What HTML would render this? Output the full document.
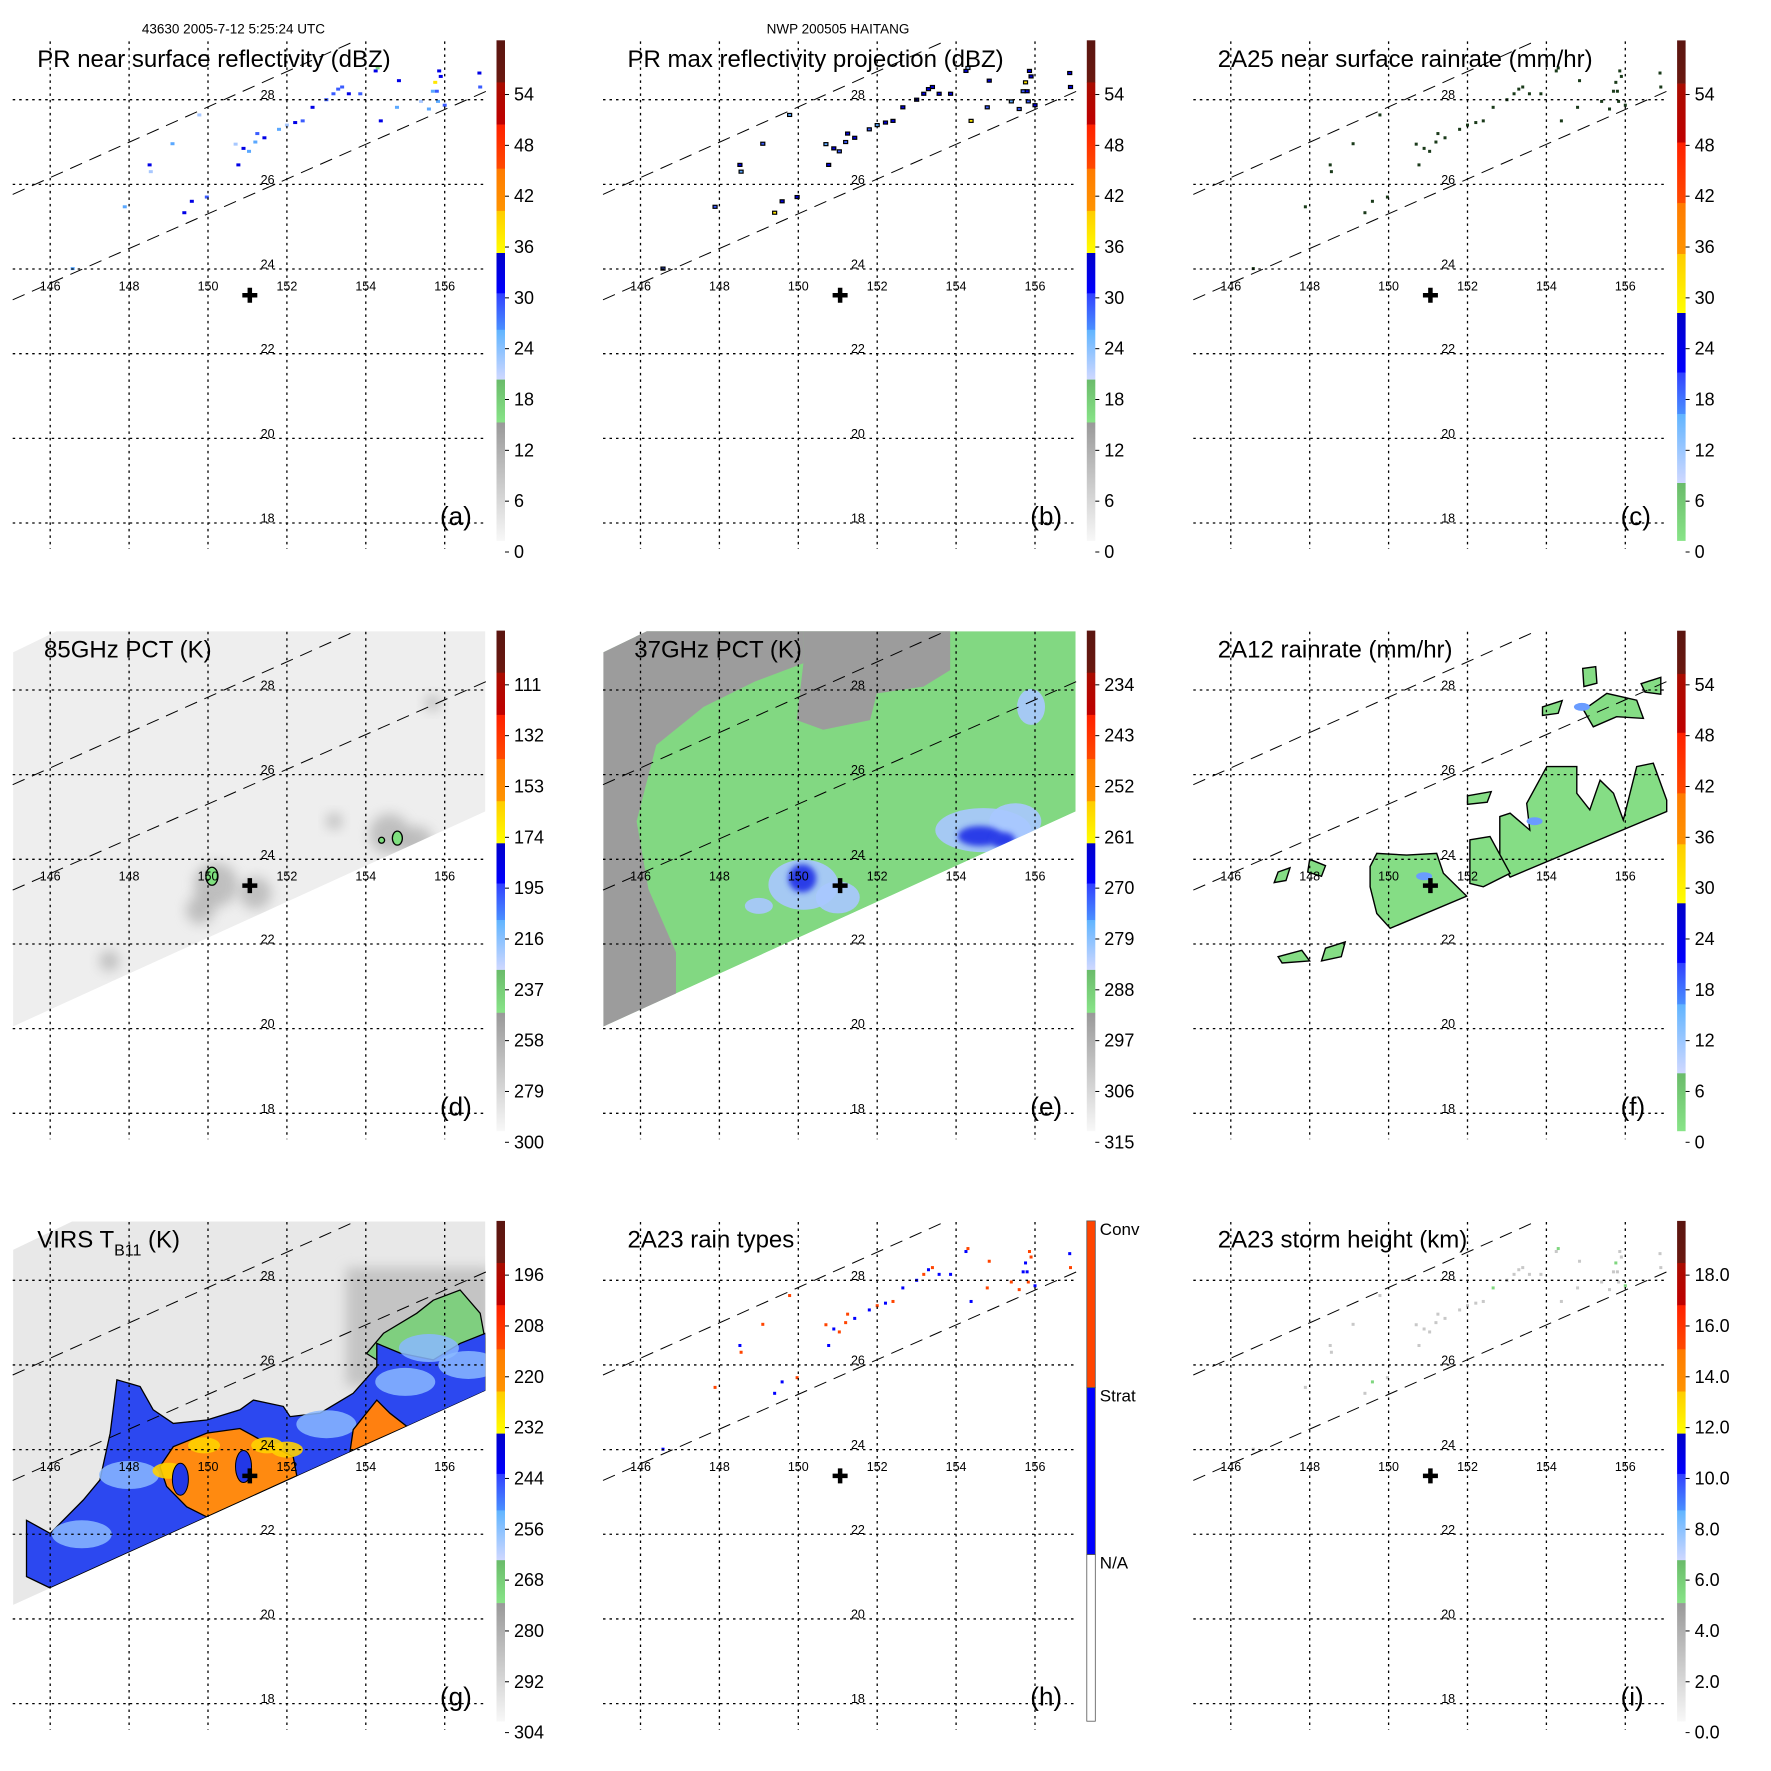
<!DOCTYPE html>
<html><head><meta charset="utf-8">
<style>
html,body{margin:0;padding:0;background:#fff;}
svg{display:block;}
text{font-family:"Liberation Sans",Arial,sans-serif;fill:#000;}
</style></head>
<body>
<svg id="fig" width="1771" height="1771" viewBox="0 0 1771 1771" xmlns="http://www.w3.org/2000/svg">
<defs>
  <filter id="blur3" x="-50%" y="-50%" width="200%" height="200%"><feGaussianBlur stdDeviation="3"/></filter>
  <filter id="blur6" x="-50%" y="-50%" width="200%" height="200%"><feGaussianBlur stdDeviation="6"/></filter>
</defs>
</svg>
<script>
// ---------- data arrays ----------
const lonTicks = [146,148,150,152,154,156];
const latTicks = [18,20,22,24,26,28];
const panelTitles = ["PR near surface reflectivity (dBZ)","PR max reflectivity projection (dBZ)","2A25 near surface rainrate (mm/hr)","85GHz PCT (K)","37GHz PCT (K)","2A12 rainrate (mm/hr)","VIRS","2A23 rain types","2A23 storm height (km)"];
const panelLetters = ["(a)","(b)","(c)","(d)","(e)","(f)","(g)","(h)","(i)"];
const cbLabelsA = ["0","6","12","18","24","30","36","42","48","54"];
const cbLabelsD = ["300","279","258","237","216","195","174","153","132","111"];
const cbLabelsE = ["315","306","297","288","279","270","261","252","243","234"];
const cbLabelsG = ["304","292","280","268","256","244","232","220","208","196"];
const cbLabelsI = ["0.0","2.0","4.0","6.0","8.0","10.0","12.0","14.0","16.0","18.0"];
const cbLabelsC = ["0","6","12","18","24","30","36","42","48","54"];
// PR swath pixels (lon, lat)
const ptLon = [155.76,155.86,155.8,154.25,153.18,153.57,153.86,154.84,154.79,154.38,152.65,152.21,152.4,151.43,151.25,151.04,150.7,150.77,149.59,149.97,149.1,148.52,148.55,149.78,149.4,146.57,147.89,156.88,156.9,155.83,156.0,155.4,155.6,151.8,152.0,151.2,150.9,153.4,153.0,155.7,155.9,154.3,153.3];
const ptLat = [28.41,28.68,28.2,28.68,28.14,28.14,28.14,28.45,27.82,27.5,27.82,27.46,27.5,27.1,27.2,26.78,26.95,26.46,25.6,25.7,26.96,26.46,26.3,27.64,25.33,24.01,25.47,28.63,28.3,27.96,27.87,27.96,27.78,27.3,27.4,27.0,26.85,28.3,28.0,28.2,28.55,28.75,28.25];
const ptDbz = [36,30,28,31,27,30,29,31,25,32,30,31,27,30,27,26,23,30,31,29,25,30,21,23,33,24,25,30,27,26,29,22,24,26,22,25,30,28,27,25,30,19,28];
const ptType = [1,2,1,1,2,1,1,2,2,1,1,1,2,1,2,2,2,1,1,2,2,1,2,2,1,1,2,1,2,2,1,2,2,1,2,2,1,2,1,1,2,2,1];
const ptHeight = [6.5,4.5,3.5,5,3,4,3.5,4,3,4,6,3.5,3,3,2.5,3,2.5,3,6,3,2.5,2,2,2.5,3,2,2,3,2.5,3,6,2.5,3,3,2.5,3,2.5,3,2.5,3,4,6.5,2.5];

// ---------- helpers ----------
const svg = document.getElementById('fig');
const NS = 'http://www.w3.org/2000/svg';
const STEP = 590.3;
function mk(tag, attrs, parent){ const e=document.createElementNS(NS,tag); for(const k in attrs) e.setAttribute(k,attrs[k]); (parent||svg).appendChild(e); return e; }
function px(p,lon){ return (p%3)*STEP + 50.2 + (lon-146)*39.45; }
function py(p,lat){ return Math.floor(p/3)*STEP + 99.7 + (28-lat)*42.33; }
function poly(p,lons,lats){ return lons.map((l,i)=>px(p,l).toFixed(1)+','+py(p,lats[i]).toFixed(1)).join(' '); }

function colorA(v){
  if(v<15) return '#bbbbbb'; if(v<20) return '#7fd67f'; if(v<24) return '#a8c8ff';
  if(v<27) return '#5aa8ff'; if(v<30) return '#3a5cff'; if(v<35) return '#0000e6';
  if(v<40) return '#ffe600'; if(v<45) return '#ff8000'; return '#ff2000';
}

const segA = [[40.3,82.4,'#5a1510','#6a1810'],[82.4,124.6,'#a80c00','#c00000'],[124.6,168.7,'#ff2000','#ff4a00'],[168.7,210.9,'#ff7a00','#ff9400'],[210.9,253,'#ffcc00','#ffff00'],[253,293.3,'#0000c8','#0000ff'],[293.3,329.8,'#3040ff','#4a90ff'],[329.8,379.6,'#60b4ff','#d0d8ff'],[379.6,422.5,'#6abb6a','#88e488'],[422.5,540.6,'#999999','#f8f8f8']];
const segC = [[40.4,83.6,'#5a1510','#6a1810'],[83.6,142.5,'#a80c00','#c00000'],[142.5,203,'#ff2000','#ff4a00'],[203,254,'#ff7a00','#ff9400'],[254,313,'#ffcc00','#ffff00'],[313,372.6,'#0000c8','#0000ff'],[372.6,414,'#3040ff','#4a90ff'],[414,483,'#60b4ff','#d0d8ff'],[483,540.6,'#6abb6a','#88e488']];

let gradId=0;
function colorbar(p, segs, labels, name){
  const ox=(p%3)*STEP, oy=Math.floor(p/3)*STEP;
  const g=mk('g',{});
  
  
  segs.forEach(s=>{
    const id='cg'+(gradId++);
    const lg=mk('linearGradient',{id:id,x1:0,y1:0,x2:0,y2:1},svg.querySelector('defs'));
    mk('stop',{offset:0,'stop-color':s[2]},lg); mk('stop',{offset:1,'stop-color':s[3]},lg);
    const r=mk('rect',{x:ox+496.5,y:oy+s[0],width:8.5,height:s[1]-s[0]+0.3,fill:'url(#'+id+')'},g);
    
    
  });
  labels.forEach((t,k)=>{
    const y=oy+558-k*50.83;
    mk('line',{x1:ox+505,x2:ox+509,y1:y-6,y2:y-6,stroke:'#000','stroke-width':1},g);
    const tx=mk('text',{x:ox+514,y:y,'font-size':18},g); tx.textContent=t;
    
    
  });
}

function grid(p){
  const ox=(p%3)*STEP, oy=Math.floor(p/3)*STEP;
  const g=mk('g',{stroke:'#000','stroke-width':1.3,'stroke-dasharray':'2.5 4',fill:'none'});
  
  
  latTicks.forEach(l=>mk('line',{x1:ox+12.7,x2:ox+487,y1:py(p,l),y2:py(p,l)},g));
  lonTicks.forEach(l=>mk('line',{x1:px(p,l),x2:px(p,l),y1:oy+41.4,y2:oy+549},g));
  const d=mk('g',{stroke:'#000','stroke-width':1,'stroke-dasharray':'13 8',fill:'none'});
  
  
  mk('line',{x1:ox+12.7,y1:oy+194.4,x2:ox+354,y2:oy+41.5},d);
  mk('line',{x1:ox+12.7,y1:oy+299.8,x2:ox+487,y2:oy+90.9},d);
  lonTicks.forEach(l=>{const t=mk('text',{x:px(p,l),y:oy+290.3,'font-size':12.5,'text-anchor':'middle'}); t.textContent=l;
     });
  latTicks.forEach(l=>{const t=mk('text',{x:ox+267.6,y:py(p,l)-0.5,'font-size':12.5,'text-anchor':'middle'}); t.textContent=l;
     });
}

function decor(p){
  const ox=(p%3)*STEP, oy=Math.floor(p/3)*STEP;
  const c=mk('path',{d:`M${px(p,151.06)-7.5},${py(p,23.38)}h15M${px(p,151.06)},${py(p,23.38)-7.5}v15`,stroke:'#000','stroke-width':4.5});
  
  
  const tx = (p===3||p===4)?44:37.2;
  if(p===6){
    const t=mk('text',{x:ox+tx,y:oy+67.1,'font-size':24});
    t.innerHTML='VIRS T<tspan font-size="16" dy="8">B11</tspan><tspan dy="-8"> (K)</tspan>';
     
  } else {
    const t=mk('text',{x:ox+tx,y:oy+67.1,'font-size':24}); t.textContent=panelTitles[p];
     
  }
  const L=mk('text',{x:ox+440,y:oy+525,'font-size':26}); L.textContent=panelLetters[p];
   
}

function clipFor(p, lons, lats){
  const id='clip'+p;
  const cp=mk('clipPath',{id:id},svg.querySelector('defs'));
  mk('polygon',{points:poly(p,lons,lats)},cp);
  return id;
}

const swLon=[145.06,146.16,157.03,157.03,145.06];
const swLat=[28.89,29.39,29.39,25.13,20.05];
const swgLon=[145.06,146.55,157.03,157.03,145.06];
const swgLat=[28.72,29.39,29.39,25.39,20.33];

// panel d : 85GHz
(function(){
  const p=3, id=clipFor(p,swLon,swLat);
  const g=mk('g',{'clip-path':'url(#'+id+')'});
   
  mk('polygon',{points:poly(p,swLon,swLat),fill:'#eeeeee'},g);
  const sLon=[150.2,151.2,154.6,155.3,147.5,155.7,153.2,149.8];
  const sLat=[23.4,23.2,24.6,24.4,21.6,27.7,24.9,22.8];
  const sR=[22,16,20,16,10,8,8,14];
  sLon.forEach((l,i)=>mk('circle',{cx:px(p,l),cy:py(p,sLat[i]),r:sR[i],fill:'#9a9a9a',opacity:0.55,filter:'url(#blur6)'},g));
  const bLon=[150.1,154.8,155.4,154.4];
  const bLat=[23.6,24.5,24.25,24.45];
  const bRx=[6,5,7,3];const bRy=[9,7,3,3];
  bLon.forEach((l,i)=>{const e=mk('ellipse',{cx:px(p,l),cy:py(p,bLat[i]),rx:bRx[i],ry:bRy[i],fill:'#7fe07f',stroke:'#000','stroke-width':1.3},g);
     });
})();

// panel e : 37GHz
(function(){
  const p=4, id=clipFor(p,swLon,swLat);
  const g=mk('g',{'clip-path':'url(#'+id+')'});
   
  mk('polygon',{points:poly(p,swLon,swLat),fill:'#82d882'},g);
  const g1Lon=[145.06,146.16,150.13,150.13,148.9,147.6,146.4,145.9,146.2,146.9,146.9,144.7,144.7];
  const g1Lat=[28.89,29.65,29.65,28.63,28.2,27.6,26.7,24.9,23.3,21.8,19.4,19.4,29.65];
  mk('polygon',{points:poly(p,g1Lon,g1Lat),fill:'#9c9c9c'},g);
  const g2Lon=[150.13,153.85,153.85,153.17,151.99,151.82,150.63,149.96,150.13];
  const g2Lat=[29.65,29.65,28.47,28.08,27.92,27.29,27.06,27.29,28.63];
  mk('polygon',{points:poly(p,g2Lon,g2Lat),fill:'#9c9c9c'},g);
  const bLon=[150.13,151.0,154.69,155.5,155.9,149.0];
  const bLat=[23.4,23.1,24.69,24.9,27.6,22.9];
  const bRx=[35,22,48,26,14,14],bRy=[25,16,22,18,18,8];
  bLon.forEach((l,i)=>mk('ellipse',{cx:px(p,l),cy:py(p,bLat[i]),rx:bRx[i],ry:bRy[i],fill:'#a8c8ff',opacity:0.9},g));
  const dLon=[150.1,154.6,155.2];
  const dLat=[23.55,24.55,24.45];
  const dRx=[14,22,12],dRy=[14,10,8];
  dLon.forEach((l,i)=>mk('ellipse',{cx:px(p,l),cy:py(p,dLat[i]),rx:dRx[i],ry:dRy[i],fill:'#2a3ee8',filter:'url(#blur3)'},g));
})();

// panel f : 2A12
(function(){
  const p=5;
  const g=mk('g',{fill:'#85dd85',stroke:'#000','stroke-width':1.4});
   
  const shapes=[
    [[149.53,149.7,150.46,151.22,151.39,151.98,150.04,149.7,149.53],[23.83,24.14,24.1,24.14,23.67,23.13,22.37,22.72,23.35]],
    [[152.82,153.08,153.58,153.5,154.01,154.77,154.77,155.1,155.36,155.7,155.95,156.29,156.71,157.05,157.05,153.08,152.82],[25.01,25.09,24.69,25.32,26.19,26.19,25.56,25.17,25.87,25.56,24.93,26.19,26.27,25.4,25.13,23.58,23.98]],
    [[152.06,152.57,153.08,152.4,152.06],[24.46,24.54,23.67,23.35,23.43]],
    [[154.94,155.53,156.29,156.46,155.78,155.19],[27.53,27.92,27.76,27.33,27.37,27.13]],
    [[154.92,155.25,155.28,154.95],[28.51,28.55,28.16,28.08]],
    [[147.2,147.8,148.0,147.3],[21.7,21.85,21.6,21.55]],
    [[148.0,148.4,148.3,147.95],[24.0,23.85,23.6,23.7]],
    [[153.9,154.4,154.3,153.9],[27.6,27.75,27.45,27.4]],
    [[156.4,156.9,156.9,156.5],[28.15,28.3,27.9,27.95]],
    [[148.4,148.9,148.8,148.3],[21.9,22.05,21.7,21.6]],
    [[152.0,152.6,152.5,152.0],[25.5,25.6,25.35,25.3]],
    [[147.2,147.5,147.4,147.1],[23.7,23.8,23.5,23.45]]
  ];
  shapes.forEach(s=>{const e=mk('polygon',{points:poly(p,s[0],s[1])},g);
     });
  const blLon=[150.9,153.7,154.9];
  const blLat=[23.6,24.9,27.6];
  blLon.forEach((l,i)=>mk('ellipse',{cx:px(p,l),cy:py(p,blLat[i]),rx:8,ry:4,fill:'#6a9cff',stroke:'none'},svg));
})();

// panel g : VIRS
(function(){
  const p=6, id=clipFor(p,swgLon,swgLat);
  const g=mk('g',{'clip-path':'url(#'+id+')'});
   
  mk('polygon',{points:poly(p,swgLon,swgLat),fill:'#e8e8e8'},g);
  const gyLon=[153.5,157.2,157.2,153.5];
  const gyLat=[28.3,28.3,25.5,25.5];
  mk('polygon',{points:poly(p,gyLon,gyLat),fill:'#c4c4c4',filter:'url(#blur6)'},g);
  const grLon=[155.71,156.39,156.9,157.04,157.04,155.71,154.28,154.02,154.45,155.29];
  const grLat=[27.53,27.77,27.22,26.51,25.33,26.12,26.12,26.27,26.75,27.22];
  mk('polygon',{points:poly(p,grLon,grLat),fill:'#7fcf7f',stroke:'#000','stroke-width':1.3},g);
  const blLon=[145.4,146.0,146.84,147.26,147.52,147.69,148.28,148.61,149.12,149.97,150.81,151.15,151.91,152.08,152.84,153.68,154.28,154.28,154.87,155.71,156.39,157.04,157.04,146.0,145.4];
  const blLat=[22.33,22.02,22.81,23.28,24.39,25.65,25.49,24.94,24.62,24.7,24.94,25.17,25.02,24.78,24.86,25.33,25.96,26.51,26.28,26.12,26.51,26.75,25.39,20.73,21.0];
  const bl=mk('polygon',{points:poly(p,blLon,blLat),fill:'#2c48f0',stroke:'#000','stroke-width':1.3},g);
   
  const lbLon=[155.6,156.6,153.0,146.8,148.0,155.0];
  const lbLat=[26.4,26.0,24.6,22.0,23.4,25.6];
  lbLon.forEach((l,i)=>mk('ellipse',{cx:px(p,l),cy:py(p,lbLat[i]),rx:30,ry:14,fill:'#8ab8ff',opacity:0.85},g));
  const orLon=[148.78,149.12,149.97,150.81,151.49,152.16,152.25,149.97,149.46,148.95];
  const orLat=[23.6,24.07,24.39,24.5,24.15,23.83,23.38,22.41,22.65,23.13];
  mk('polygon',{points:poly(p,orLon,orLat),fill:'#ff8a10',stroke:'#000','stroke-width':1.3},g);
  const o2Lon=[153.6,153.68,154.28,154.61,155.04];
  const o2Lat=[23.95,24.47,25.17,24.86,24.55];
  mk('polygon',{points:poly(p,o2Lon,o2Lat),fill:'#ff8010',stroke:'#000','stroke-width':1.3},g);
  const yLon=[149.9,151.5,152.0,149.0];
  const yLat=[24.1,24.1,24.0,23.5];
  yLon.forEach((l,i)=>mk('ellipse',{cx:px(p,l),cy:py(p,yLat[i]),rx:16,ry:8,fill:'#ffd000',opacity:0.9},g));
  const dbLon=[149.3,150.9];
  const dbLat=[23.3,23.6];
  dbLon.forEach((l,i)=>mk('ellipse',{cx:px(p,l),cy:py(p,dbLat[i]),rx:8,ry:16,fill:'#2238e8',stroke:'#000','stroke-width':1},g));
})();

// ---------- PR speck panels ----------
function specks(p, colorFn, w, h, stroke, name){
  const g=mk('g',{});
   
  ptLon.forEach((l,i)=>{
    const r=mk('rect',{x:px(p,l)-w/2,y:py(p,ptLat[i])-h/2,width:w,height:h,fill:colorFn(i)},g);
    if(stroke){r.setAttribute('stroke',stroke);r.setAttribute('stroke-width',1.2);}
    
    
  });
}
specks(0,i=>colorA(ptDbz[i]),4,3,null,'pr-near-surface-pixels');
specks(1,i=>colorA(ptDbz[i]+3),4,3,'#000','pr-max-projection-pixels');
specks(2,i=>'#1a3a1a',3,3,null,'rainrate-2a25-pixels');
specks(7,i=>ptType[i]===2?'#ff4400':'#0000ff',3,3,null,'rain-type-pixels');
specks(8,i=>ptHeight[i]>5?'#7fd67f':'#c8c8c8',3,3,null,'storm-height-pixels');

for(let p=0;p<9;p++){ grid(p); decor(p); }
colorbar(0,segA,cbLabelsA,'colorbar-a');
colorbar(1,segA,cbLabelsA,'colorbar-b');
colorbar(2,segC,cbLabelsC,'colorbar-c');
colorbar(3,segA,cbLabelsD,'colorbar-d');
colorbar(4,segA,cbLabelsE,'colorbar-e');
colorbar(5,segC,cbLabelsC,'colorbar-f');
colorbar(6,segA,cbLabelsG,'colorbar-g');
colorbar(8,segA,cbLabelsI,'colorbar-i');
(function(){
  const ox=STEP, oy=2*STEP;
  const g=mk('g',{});
   
  const hb=[40.3,207,374,540.6];
  const hc=['#ff4400','#0000ff','#ffffff'];
  const hl=['Conv','Strat','N/A'];
  hc.forEach((c,i)=>mk('rect',{x:ox+496.5,y:oy+hb[i],width:8.5,height:hb[i+1]-hb[i],fill:c,stroke:'#555','stroke-width':0.8},g));
  hl.forEach((t,i)=>{const tx=mk('text',{x:ox+509.5,y:oy+hb[i]+14,'font-size':17},g);tx.textContent=t;
     });
})();

const h1=mk('text',{x:141.9,y:33.7,'font-size':13.5}); h1.textContent='43630 2005-7-12 5:25:24 UTC';
 
const h2=mk('text',{x:838,y:33.7,'font-size':13.5,'text-anchor':'middle'}); h2.textContent='NWP 200505 HAITANG';
 
</script>
</body></html>
